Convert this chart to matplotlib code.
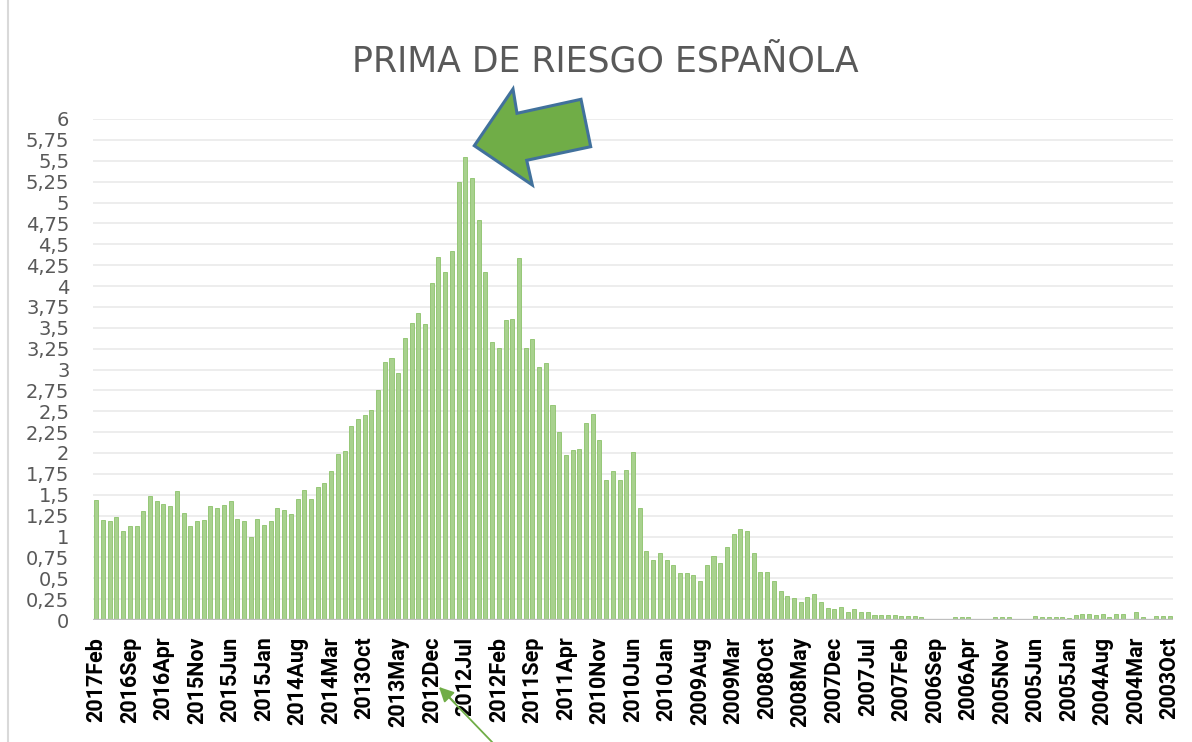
import matplotlib
matplotlib.use("Agg")
import matplotlib.pyplot as plt
from matplotlib.patches import Polygon
from matplotlib.lines import Line2D
import numpy as np
import pandas as pd

# monthly spread, newest first (2017Feb -> 2003Oct)
prima = [
    1.44, 1.20, 1.18, 1.23, 1.06, 1.12, 1.13, 1.31, 1.49, 1.43,
    1.39, 1.36, 1.54, 1.28, 1.13, 1.19, 1.20, 1.37, 1.34, 1.38,
    1.42, 1.21, 1.18, 0.99, 1.21, 1.14, 1.18, 1.34, 1.32, 1.27,
    1.45, 1.56, 1.45, 1.59, 1.64, 1.79, 1.99, 2.02, 2.32, 2.41,
    2.45, 2.52, 2.76, 3.09, 3.14, 2.96, 3.38, 3.56, 3.68, 3.54,
    4.04, 4.35, 4.17, 4.42, 5.24, 5.55, 5.29, 4.79, 4.17, 3.33,
    3.26, 3.59, 3.60, 4.33, 3.26, 3.36, 3.03, 3.08, 2.58, 2.25,
    1.98, 2.03, 2.05, 2.36, 2.47, 2.15, 1.68, 1.78, 1.68, 1.80,
    2.01, 1.34, 0.83, 0.72, 0.80, 0.72, 0.66, 0.56, 0.56, 0.54,
    0.47, 0.66, 0.77, 0.68, 0.87, 1.03, 1.09, 1.07, 0.80, 0.58,
    0.58, 0.47, 0.35, 0.29, 0.26, 0.22, 0.27, 0.31, 0.22, 0.14,
    0.13, 0.15, 0.09, 0.13, 0.09, 0.09, 0.06, 0.06, 0.06, 0.06,
    0.05, 0.05, 0.05, 0.04, 0.00, 0.00, 0.00, 0.00, 0.03, 0.03,
    0.03, 0.00, 0.00, 0.00, 0.03, 0.03, 0.04, 0.00, 0.00, 0.00,
    0.045, 0.03, 0.04, 0.035, 0.035, 0.02, 0.055, 0.07, 0.075, 0.06,
    0.07, 0.04, 0.075, 0.075, 0.00, 0.10, 0.04, 0.00, 0.045, 0.045,
    0.045,
]

meses = pd.period_range("2003-10", "2017-02", freq="M")[::-1]
categorias = [f"{p.year}{p.strftime('%b')}" for p in meses]

y_ticks = [0, 0.25, 0.5, 0.75, 1, 1.25, 1.5, 1.75, 2, 2.25, 2.5, 2.75,
           3, 3.25, 3.5, 3.75, 4, 4.25, 4.5, 4.75, 5, 5.25, 5.5, 5.75, 6]
y_labels = [f"{v:g}".replace(".", ",") for v in y_ticks]

W, H = 1192, 742


def px(x, y):
    return (x / W, 1 - y / H)


fig = plt.figure(figsize=(W / 100, H / 100), dpi=100)
fig.patch.set_facecolor("white")

ax = fig.add_axes([93 / W, (H - 620) / H, 1080 / W, (620 - 119) / H])
x = np.arange(len(prima))
ax.bar(x, prima, width=0.6, color="#a8d18e", edgecolor="#8cc26a",
       linewidth=0.6, zorder=2)

ax.set_xlim(-0.5, len(prima) - 0.5)
ax.set_ylim(0, 6)
ax.set_yticks(y_ticks)
ax.set_yticklabels(y_labels, fontsize=14, color="#595959",
                   family="DejaVu Sans")
ax.tick_params(axis="y", length=0, pad=17)

ax.set_xticks(x[::5])
ax.set_xticklabels(categorias[::5], rotation=90, fontsize=15.5,
                   fontweight="bold", color="black", family="Roboto")
ax.tick_params(axis="x", length=0, pad=12)

ax.grid(axis="y", color="#ececec", linewidth=1.3, zorder=0)
ax.set_axisbelow(True)
for s in ax.spines.values():
    s.set_visible(False)
ax.axhline(0, color="#bfbfbf", linewidth=2.4, zorder=3)

fig.text(605 / W, 1 - 62 / H, "PRIMA DE RIESGO ESPAÑOLA", ha="center",
         va="center", fontsize=25, color="#595959", family="DejaVu Sans")

# big block arrow pointing at the peak
flecha = [(474.3, 145.7), (513, 89), (517, 113.3), (581, 99.3),
          (590.7, 146.7), (526.7, 160.3), (532.3, 185)]
fig.patches.append(Polygon([px(a, b) for a, b in flecha], closed=True,
                           transform=fig.transFigure, facecolor="#70ad47",
                           edgecolor="#41719c", linewidth=2.2, zorder=5))

# thin arrow at the bottom
fig.add_artist(Line2D([px(492, 742)[0], px(441, 689)[0]],
                      [px(492, 742)[1], px(441, 689)[1]],
                      transform=fig.transFigure, color="#70ad47", lw=1.3))
ax.annotate("", xy=px(439, 687), xycoords="figure fraction",
            xytext=px(455, 703), textcoords="figure fraction",
            arrowprops=dict(arrowstyle="-|>", color="#70ad47", lw=1.3,
                            mutation_scale=22, shrinkA=0, shrinkB=0),
            annotation_clip=False)

# chart frame edge on the left
fig.add_artist(Line2D([8 / W, 8 / W], [0, 1], transform=fig.transFigure,
                      color="#d9d9d9", lw=1.5))

fig.savefig("out.png", dpi=100, facecolor="white")
